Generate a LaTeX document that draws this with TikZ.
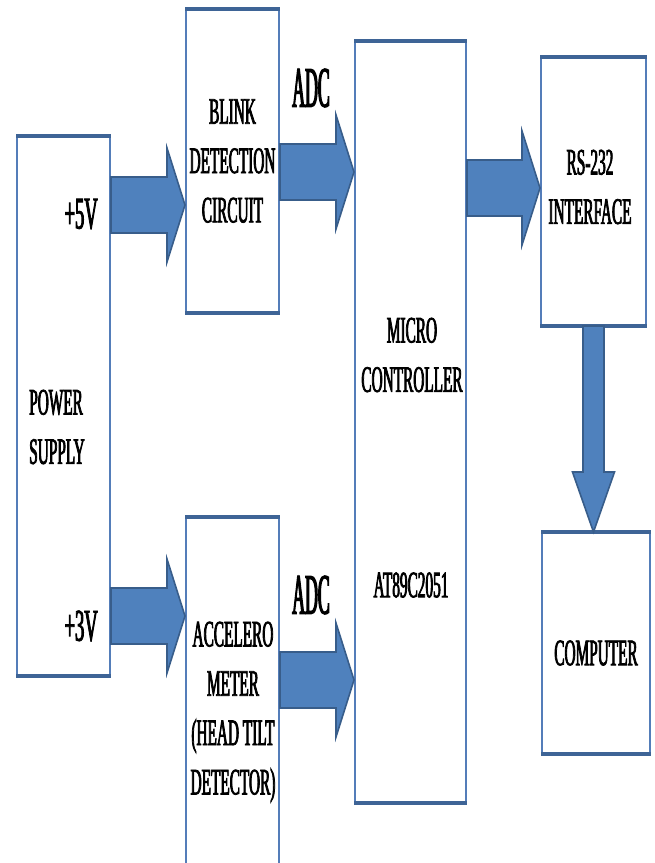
\documentclass[tikz,border=0pt]{standalone}
\usepackage{fontspec}
\setmainfont{Liberation Serif}
\newfontfamily\blockfont[FakeStretch=0.41,FakeBold=2]{Liberation Serif}
\newfontfamily\adcfont[FakeStretch=0.31,FakeBold=2]{Liberation Serif}
\usetikzlibrary{positioning,calc}
\definecolor{boxline}{RGB}{84,125,185}
\definecolor{barblue}{RGB}{62,100,150}
\definecolor{arrowfill}{RGB}{79,129,189}
\definecolor{arrowline}{RGB}{56,93,138}
\def\px{0.75pt}
\tikzstyle{block}=[draw=boxline,line width=1.5pt,fill=white,inner sep=0pt,align=center,
  font=\blockfont\fontsize{28}{37}\selectfont]
\tikzstyle{txt}=[inner sep=0pt,align=center,font=\blockfont\fontsize{28}{37}\selectfont]
\tikzstyle{volt}=[inner sep=0pt,font=\blockfont\fontsize{34}{40}\selectfont]
\tikzstyle{adc}=[inner sep=0pt,font=\adcfont\fontsize{43}{50}\selectfont]
\tikzstyle{bar}=[draw=barblue,line width=3.5pt]
\tikzstyle{fat}=[fill=arrowfill,draw=arrowline,line width=1.2pt,line join=miter]
\newcommand{\newBlock}[6]{\node[block,minimum width={(#4-#2)*\px},minimum height={(#5-#3)*\px}](#1) at ({(#2+#4)/2},{(#3+#5)/2}){#6};
  \draw[bar] (#1.north west) -- (#1.north east);
  \draw[bar] (#1.south west) -- (#1.south east);}
\newcommand{\newArrow}[3]{\coordinate (s) at (#1.east |- #3);
  \coordinate (t) at (#2.west |- #3);
  \draw[fat] ($(s)+(0,-28)$) -- ($(t)+(-18,-28)$) -- ($(t)+(-18,-57)$) -- (t)
    -- ($(t)+(-18,57)$) -- ($(t)+(-18,28)$) -- ($(s)+(0,28)$) -- cycle;}
\begin{document}
\begin{tikzpicture}[x=\px,y=-\px]
        \useasboundingbox (0,0) rectangle (654,863);
        \clip (0,0) rectangle (654,863);
        % blocks
        \newBlock{pwr}{17}{137}{110}{675}{}
        \newBlock{blink}{186}{10}{279}{312}{BLINK\\DETECTION\\CIRCUIT}
        \newBlock{acc}{186}{518}{279}{880}{}
        \newBlock{micro}{355}{42}{466}{802}{}
        \newBlock{rs}{541}{58}{646}{325}{}
        \newBlock{comp}{542}{533}{650}{753}{}
        % arrow levels
        \coordinate (y5) at (0,205);
        \coordinate (y3) at (0,616);
        \coordinate (yadc1) at (0,172);
        \coordinate (yadc2) at (0,680);
        \coordinate (yrs) at (0,188);
        \newArrow{pwr}{blink}{y5}
        \newArrow{pwr}{acc}{y3}
        \newArrow{blink}{micro}{yadc1}
        \newArrow{acc}{micro}{yadc2}
        \newArrow{micro}{rs}{yrs}
        \coordinate (s) at (rs.south);
        \coordinate (t) at (comp.north -| rs.south);
        \draw[fat] ($(s)+(-10.5,0)$) -- ($(t)+(-10.5,-60)$) -- ($(t)+(-21,-60)$) -- (t)
          -- ($(t)+(21,-60)$) -- ($(t)+(10.5,-60)$) -- ($(s)+(10.5,0)$) -- cycle;
        % texts
        \node[txt,align=left,anchor=west] (pwrtxt) at ($(pwr.west)+(13,21)$) {POWER\\SUPPLY};
        \node[volt,anchor=east] (v5) at ($(pwr.east |- y5)+(-13,9)$) {+5V};
        \node[volt,anchor=east] (v3) at ($(pwr.east |- y3)+(-13,10)$) {+3V};
        \node[adc] (adc1) at (311,88) {ADC};
        \node[adc] (adc2) at (311,595) {ADC};
        \node[txt] (mctxt) at (412,355) {MICRO\\CONTROLLER};
        \node[txt] (mcid) at (411,585) {AT89C2051};
        \node[txt] (acctxt) at (233,712) {ACCELERO\\METER\\(HEAD TILT\\DETECTOR)};
        \node[txt] (rstxt) at (590,187) {RS-232\\INTERFACE};
        \node[txt] (comptxt) at (596,653) {COMPUTER};
\end{tikzpicture}
\end{document}
